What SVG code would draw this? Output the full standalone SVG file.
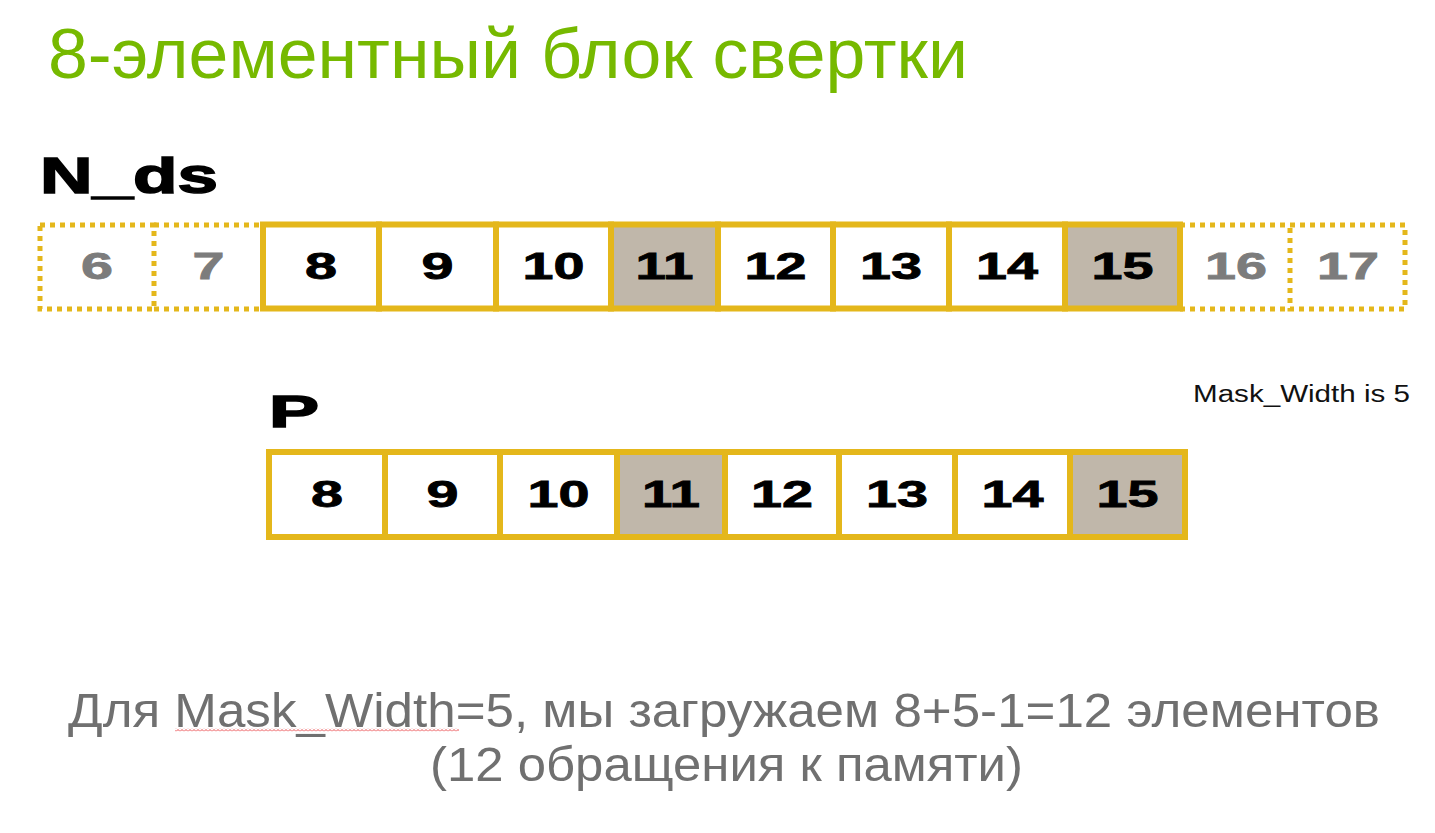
<svg xmlns="http://www.w3.org/2000/svg" width="1435" height="833" viewBox="0 0 1435 833">
  <defs>
    <style>
      .title { font-family: "Liberation Sans", Arial, sans-serif; font-size: 70px; fill: #76b900; }
      .label { font-family: "Liberation Sans", Arial, sans-serif; font-weight: bold; fill: #000; stroke: #000; stroke-width: 1.5; }
      .cell { fill: #ffffff; stroke: #e4b71b; stroke-width: 6; }
      .cell.hl { fill: #c0b7aa; }
      .dot { fill: none; stroke: #e4b71b; stroke-width: 5; stroke-dasharray: 5 5; }
      .num { font-family: "Liberation Sans", Arial, sans-serif; font-weight: bold; font-size: 36px; fill: #000; stroke: #000; stroke-width: 0.8; text-anchor: middle; }
      .num.ghost { fill: #7c7c7c; stroke: #7c7c7c; }
      .note { font-family: "Liberation Sans", Arial, sans-serif; font-size: 23px; fill: #111; }
      .caption { font-family: "Liberation Sans", Arial, sans-serif; font-size: 49px; fill: #707070; }
    </style>
    <pattern id="wave" x="0" y="0" width="4" height="3" patternUnits="userSpaceOnUse">
      <path d="M0 2.5 L2 0.5 L4 2.5" fill="none" stroke="#e8343a" stroke-width="0.9"/>
    </pattern>
  </defs>
  <rect width="1435" height="833" fill="#ffffff"/>

  <text id="title" class="title" x="48" y="78" textLength="920" lengthAdjust="spacingAndGlyphs">8-элементный блок свертки</text>

  <text id="label-nds" class="label" x="40" y="193" font-size="50" textLength="178" lengthAdjust="spacingAndGlyphs">N_ds</text>
  <text id="label-p" class="label" x="269" y="427" font-size="45" textLength="50" lengthAdjust="spacingAndGlyphs">P</text>
  <text id="mask-note" class="note" x="1193" y="402" textLength="217" lengthAdjust="spacingAndGlyphs">Mask_Width is 5</text>

  <!-- N_ds row: halo cells (dotted) -->
  <g id="nds-6">
    <rect class="dot" x="40" y="225" width="114" height="84"/>
    <text class="num ghost" x="97" y="279" textLength="32" lengthAdjust="spacingAndGlyphs">6</text>
  </g>
  <g id="nds-7">
    <path class="dot" d="M154 225 H263 M154 309 H263"/>
    <text class="num ghost" x="208.5" y="279" textLength="32" lengthAdjust="spacingAndGlyphs">7</text>
  </g>
  <g id="nds-16">
    <path class="dot" d="M1180 225 H1290 M1180 309 H1290"/>
    <text class="num ghost" x="1236" y="279" textLength="62" lengthAdjust="spacingAndGlyphs">16</text>
  </g>
  <g id="nds-17">
    <rect class="dot" x="1290" y="225" width="115" height="84"/>
    <text class="num ghost" x="1348" y="279" textLength="62" lengthAdjust="spacingAndGlyphs">17</text>
  </g>

  <!-- N_ds row: internal cells -->
  <g id="nds-8">
    <rect class="cell" x="263" y="224.5" width="116" height="84"/>
    <text class="num" x="321" y="279" textLength="32" lengthAdjust="spacingAndGlyphs">8</text>
  </g>
  <g id="nds-9">
    <rect class="cell" x="379" y="224.5" width="117" height="84"/>
    <text class="num" x="437.5" y="279" textLength="32" lengthAdjust="spacingAndGlyphs">9</text>
  </g>
  <g id="nds-10">
    <rect class="cell" x="496" y="224.5" width="115" height="84"/>
    <text class="num" x="553.5" y="279" textLength="62" lengthAdjust="spacingAndGlyphs">10</text>
  </g>
  <g id="nds-11">
    <rect class="cell hl" x="611" y="224.5" width="107" height="84"/>
    <text class="num" x="664.5" y="279" textLength="58" lengthAdjust="spacingAndGlyphs">11</text>
  </g>
  <g id="nds-12">
    <rect class="cell" x="718" y="224.5" width="115" height="84"/>
    <text class="num" x="775.5" y="279" textLength="62" lengthAdjust="spacingAndGlyphs">12</text>
  </g>
  <g id="nds-13">
    <rect class="cell" x="833" y="224.5" width="116" height="84"/>
    <text class="num" x="891" y="279" textLength="62" lengthAdjust="spacingAndGlyphs">13</text>
  </g>
  <g id="nds-14">
    <rect class="cell" x="949" y="224.5" width="116" height="84"/>
    <text class="num" x="1007" y="279" textLength="62" lengthAdjust="spacingAndGlyphs">14</text>
  </g>
  <g id="nds-15">
    <rect class="cell hl" x="1065" y="224.5" width="115" height="84"/>
    <text class="num" x="1122.5" y="279" textLength="62" lengthAdjust="spacingAndGlyphs">15</text>
  </g>

  <!-- P row -->
  <g id="p-8">
    <rect class="cell" x="269" y="452" width="116" height="85"/>
    <text class="num" x="327" y="507" textLength="32" lengthAdjust="spacingAndGlyphs">8</text>
  </g>
  <g id="p-9">
    <rect class="cell" x="385" y="452" width="115" height="85"/>
    <text class="num" x="442.5" y="507" textLength="32" lengthAdjust="spacingAndGlyphs">9</text>
  </g>
  <g id="p-10">
    <rect class="cell" x="500" y="452" width="117" height="85"/>
    <text class="num" x="558.5" y="507" textLength="62" lengthAdjust="spacingAndGlyphs">10</text>
  </g>
  <g id="p-11">
    <rect class="cell hl" x="617" y="452" width="108" height="85"/>
    <text class="num" x="671" y="507" textLength="58" lengthAdjust="spacingAndGlyphs">11</text>
  </g>
  <g id="p-12">
    <rect class="cell" x="725" y="452" width="114" height="85"/>
    <text class="num" x="782" y="507" textLength="62" lengthAdjust="spacingAndGlyphs">12</text>
  </g>
  <g id="p-13">
    <rect class="cell" x="839" y="452" width="116" height="85"/>
    <text class="num" x="897" y="507" textLength="62" lengthAdjust="spacingAndGlyphs">13</text>
  </g>
  <g id="p-14">
    <rect class="cell" x="955" y="452" width="115" height="85"/>
    <text class="num" x="1012.5" y="507" textLength="62" lengthAdjust="spacingAndGlyphs">14</text>
  </g>
  <g id="p-15">
    <rect class="cell hl" x="1070" y="452" width="115" height="85"/>
    <text class="num" x="1127.5" y="507" textLength="62" lengthAdjust="spacingAndGlyphs">15</text>
  </g>

  <g id="connectors"></g>

  <g id="caption">
    <text class="caption" x="68" y="727" textLength="1312" lengthAdjust="spacingAndGlyphs">Для Mask_Width=5, мы загружаем 8+5-1=12 элементов</text>
    <text class="caption" x="430" y="781" textLength="593" lengthAdjust="spacingAndGlyphs">(12 обращения к памяти)</text>
    <rect x="175" y="728.5" width="284" height="3" fill="url(#wave)"/>
  </g>
</svg>
